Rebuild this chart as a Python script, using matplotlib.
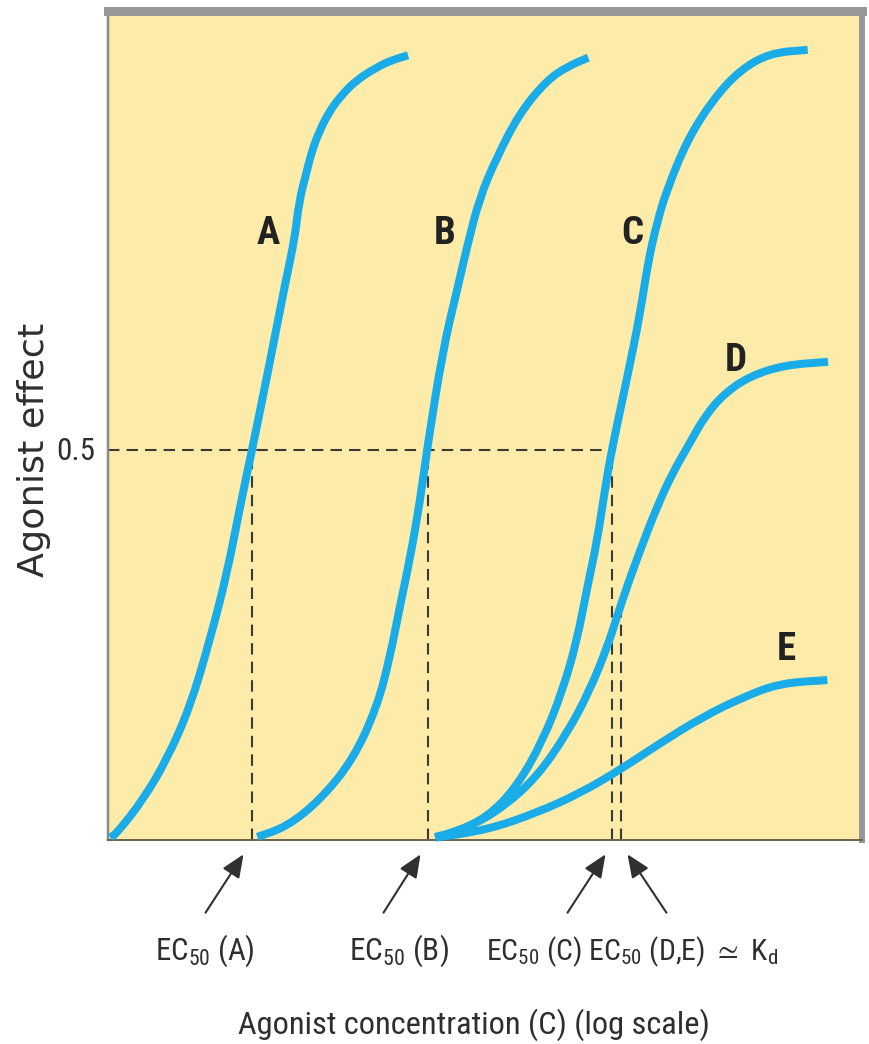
import matplotlib
matplotlib.use("Agg")
import matplotlib.pyplot as plt
from matplotlib import font_manager
from matplotlib.path import Path
from matplotlib.patches import PathPatch, FancyArrowPatch

W, H = 869, 1044

# ---------------- data ----------------
# x: log agonist concentration (arbitrary units, axis 0..10); y: agonist effect
curve_names = ["A", "B", "C", "D", "E"]

xA = [0.03, 0.12, 0.46, 0.78, 1.09, 1.35, 1.58, 1.75, 1.91, 2.10, 2.23, 2.36,
      2.48, 2.53, 2.64, 2.71, 2.81, 2.93, 3.08, 3.29, 3.57, 3.77, 3.98]
yA = [0.003, 0.009, 0.051, 0.103, 0.171, 0.256, 0.342, 0.427, 0.500, 0.590,
      0.654, 0.718, 0.773, 0.817, 0.859, 0.885, 0.910, 0.933, 0.953, 0.974,
      0.991, 1.000, 1.006]

xB = [1.98, 2.37, 2.81, 3.25, 3.57, 3.74, 3.87, 4.01, 4.14, 4.23, 4.44, 4.63,
      4.76, 4.93, 5.16, 5.46, 5.82, 6.10, 6.37]
yB = [0.004, 0.017, 0.051, 0.103, 0.171, 0.235, 0.299, 0.363, 0.436, 0.500,
      0.628, 0.705, 0.760, 0.824, 0.876, 0.932, 0.974, 0.992, 1.003]

xC = [4.34, 4.58, 5.03, 5.42, 5.77, 6.03, 6.22, 6.35, 6.49, 6.59, 6.68, 6.88,
      7.06, 7.16, 7.28, 7.41, 7.68, 8.02, 8.38, 8.78, 9.28]
yC = [0.004, 0.009, 0.029, 0.068, 0.128, 0.192, 0.256, 0.321, 0.385, 0.449,
      0.500, 0.590, 0.676, 0.740, 0.791, 0.833, 0.897, 0.949, 0.987, 1.009, 1.013]

xD = [4.34, 4.80, 5.24, 5.69, 6.09, 6.39, 6.62, 6.75, 6.88, 7.06, 7.28, 7.49,
      7.71, 7.92, 8.18, 8.52, 8.98, 9.55]
yD = [0.003, 0.017, 0.042, 0.081, 0.137, 0.192, 0.247, 0.286, 0.324, 0.372,
      0.427, 0.471, 0.508, 0.544, 0.573, 0.595, 0.609, 0.613]

xE = [4.34, 5.03, 5.69, 6.26, 6.79, 7.32, 7.89, 8.42, 8.91, 9.54]
yE = [0.003, 0.013, 0.035, 0.060, 0.090, 0.124, 0.158, 0.183, 0.201, 0.205]

# EC50 positions (log conc) and half-effect levels
ec50_A, ec50_B, ec50_C, ec50_DE = 1.91, 4.24, 6.68, 6.80
half_effect = 0.5
half_effect_D = 0.29

# curve letter label positions (data coords)
label_x = [2.12, 4.47, 6.96, 8.32, 8.99]
label_y = [0.778, 0.778, 0.778, 0.615, 0.244]

# texts
ec_labels = [r"EC$_{50}$ (A)", r"EC$_{50}$ (B)",
             r"EC$_{50}$ (C) EC$_{50}$ (D,E) ${\simeq}$ K$_{d}$"]
xlabel = "Agonist concentration (C) (log scale)"
ylabel = "Agonist effect"
ytick_label = "0.5"

# ---------------- fonts ----------------
entries = font_manager.fontManager.ttflist
pref = ["Liberation Sans Narrow", "Roboto Condensed", "Open Sans Condensed",
        "Noto Sans Condensed", "DejaVu Sans"]
narrow_family, narrow_stretch = None, "normal"
for want in pref:
    for f in entries:
        st = str(f.stretch).lower()
        is_cond = ("narrow" in f.name.lower() or "condensed" in f.name.lower()
                   or "condensed" in st)
        if f.name == want and is_cond:
            narrow_family = f.name
            narrow_stretch = f.stretch if "condensed" in st else "normal"
            break
    if narrow_family:
        break
if narrow_family is None:
    narrow_family, narrow_stretch = "Liberation Sans", "normal"

plt.rcParams["font.family"] = [narrow_family, "DejaVu Sans"]
plt.rcParams["mathtext.fontset"] = "custom"
plt.rcParams["mathtext.rm"] = narrow_family
plt.rcParams["mathtext.default"] = "regular"

BLUE = "#19ACE9"
YELLOW = "#FDECA9"
DASH = "#3d3a35"
TXT = "#2e2e2e"

fig = plt.figure(figsize=(W / 100, H / 100), dpi=100)
L, R, T, B = 108, 862, 10.5, 840
ax = fig.add_axes([L / W, 1 - B / H, (R - L) / W, (B - T) / H])
ax.set_facecolor(YELLOW)
ax.set_xlim(0, 10)
ax.set_ylim(0, (B - T) / 780)
ax.set_xticks([])
ax.set_yticks([])

ax.spines["top"].set_color("#97979a")
ax.spines["top"].set_linewidth(9 * 0.72)
ax.spines["right"].set_color("#97979a")
ax.spines["right"].set_linewidth(6 * 0.72)
ax.spines["left"].set_color("#8c8c8c")
ax.spines["left"].set_linewidth(2.5 * 0.72)
ax.spines["bottom"].set_color("#6e6650")
ax.spines["bottom"].set_linewidth(2 * 0.72)

# dashed guide lines
dls = (0, (5.5, 3.4))
dlw = 1.5
ax.plot([0, ec50_C], [half_effect, half_effect], color=DASH, lw=dlw, ls=dls, zorder=2)
for xe in (ec50_A, ec50_B, ec50_C):
    ax.plot([xe, xe], [0, half_effect], color=DASH, lw=dlw, ls=dls, zorder=2)
ax.plot([ec50_DE, ec50_DE], [0, half_effect_D], color=DASH, lw=dlw, ls=dls, zorder=2)


def smooth_path(xs, ys):
    """Quadratic B-spline style path through the read points (rendering only)."""
    pts = list(zip(xs, ys))
    verts = [pts[0]]
    codes = [Path.MOVETO]
    mid = lambda a, b: ((a[0] + b[0]) / 2, (a[1] + b[1]) / 2)
    verts.append(mid(pts[0], pts[1]))
    codes.append(Path.LINETO)
    for i in range(1, len(pts) - 1):
        verts += [pts[i], mid(pts[i], pts[i + 1])]
        codes += [Path.CURVE3, Path.CURVE3]
    verts.append(pts[-1])
    codes.append(Path.LINETO)
    return Path(verts, codes)


for xs, ys in ((xA, yA), (xB, yB), (xC, yC), (xD, yD), (xE, yE)):
    ax.add_patch(PathPatch(smooth_path(xs, ys), fill=False, edgecolor=BLUE,
                           lw=8 * 0.72, capstyle="butt", joinstyle="round",
                           clip_on=False, zorder=3))

# curve letters
for nm, lx, ly in zip(curve_names, label_x, label_y):
    ax.text(lx, ly, nm, ha="center", va="center", fontsize=28,
            fontweight="bold", color="#222222", zorder=4,
            fontstretch=narrow_stretch)


def fp(px, py):
    return (px / W, 1 - py / H)


renderer = fig.canvas.get_renderer()


def fit_text(px, py, s, target_w, base=20, rotation=0, **kw):
    t = fig.text(*fp(px, py), s, fontsize=base, rotation=0, **kw)
    w = t.get_window_extent(renderer).width
    t.set_fontsize(base * target_w / w)
    t.set_rotation(rotation)
    return t


kw = dict(color=TXT, fontstretch=narrow_stretch)
fit_text(95, 451, ytick_label, 39, ha="right", va="center", **kw)
fit_text(34, 450, ylabel, 253, rotation=90, ha="center", va="center",
         color=TXT, family="DejaVu Sans")
fit_text(474, 1034, xlabel, 470, ha="center", va="baseline", **kw)
fit_text(205, 960, ec_labels[0], 100, ha="center", va="baseline", **kw)
fit_text(399, 960, ec_labels[1], 100, ha="center", va="baseline", **kw)
fit_text(632, 960, ec_labels[2], 292, ha="center", va="baseline", **kw)

arrows = [((204, 915), (245, 852)), ((382, 915), (422, 852)),
          ((566, 915), (607, 852)), ((668, 915), (626, 852))]
for (tx, ty), (hx, hy) in arrows:
    fig.add_artist(FancyArrowPatch(
        fp(tx, ty), fp(hx, hy), transform=fig.transFigure,
        arrowstyle="-|>,head_length=0.7,head_width=0.3", mutation_scale=20,
        lw=1.5, color="#303030"))

fig.savefig("out.png", dpi=100, facecolor="white")
